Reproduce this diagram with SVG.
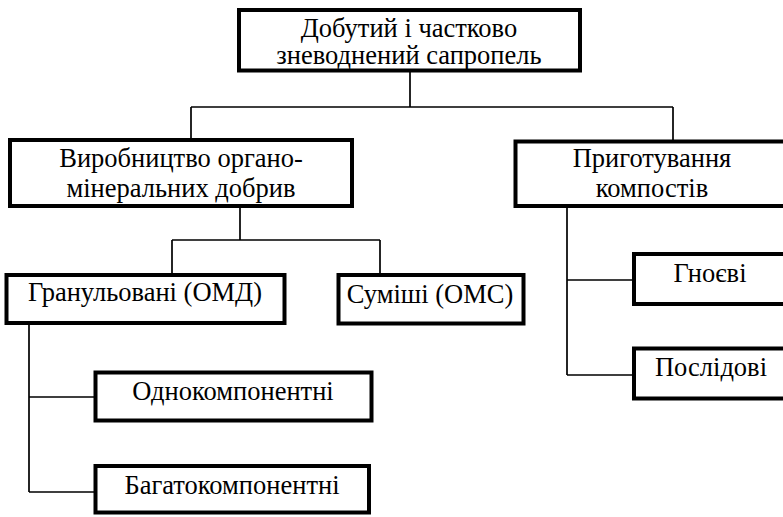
<svg xmlns="http://www.w3.org/2000/svg" width="783" height="517" viewBox="0 0 783 517">
<style>
.box{fill:#fff;stroke:#000;stroke-width:4}
.t{font-family:"Liberation Serif","Times New Roman","DejaVu Serif",serif;font-size:26.5px;fill:#000;text-anchor:middle}
.c{fill:none;stroke:#000;stroke-width:1.7}
</style>
<rect width="783" height="517" fill="#fff"/>
<g id="connectors">
<path class="c" d="M410 72V107M191 107H673M191 107V140M673 107V140"/>
<path class="c" d="M240 206V240M172 240H380M172 240V275M380 240V275"/>
<path class="c" d="M567 206V375M567 280H634M567 375H634"/>
<path class="c" d="M29 323V492M29 397H95M29 492H95"/>
</g>
<g id="n-top">
<rect class="box" x="239" y="10" width="341" height="60.5"/>
<text class="t" x="409" y="37">Добутий і частково</text>
<text class="t" x="409" y="64">зневоднений  сапропель</text>
</g>
<g id="n-vyrob">
<rect class="box" x="10" y="140" width="342" height="66"/>
<text class="t" x="181" y="167">Виробництво органо-</text>
<text class="t" x="181" y="197">мінеральних  добрив</text>
</g>
<g id="n-prygot">
<rect class="box" x="515.5" y="141.5" width="280" height="64.5"/>
<text class="t" x="652" y="167">Приготування</text>
<text class="t" x="652" y="197">компостів</text>
</g>
<g id="n-granul">
<rect class="box" x="6.5" y="275" width="278" height="48"/>
<text class="t" x="145" y="301">Гранульовані (ОМД)</text>
</g>
<g id="n-sumishi">
<rect class="box" x="338.5" y="275" width="185" height="48.5"/>
<text class="t" x="430" y="303">Суміші (ОМС)</text>
</g>
<g id="n-gnoevi">
<rect class="box" x="634" y="254" width="160" height="50"/>
<text class="t" x="710" y="282">Гноєві</text>
</g>
<g id="n-poslidovi">
<rect class="box" x="634" y="348.5" width="160" height="50"/>
<text class="t" x="711" y="376">Послідові</text>
</g>
<g id="n-odno">
<rect class="box" x="95.5" y="372.5" width="276" height="48"/>
<text class="t" x="233" y="400">Однокомпонентні</text>
</g>
<g id="n-baga">
<rect class="box" x="95.5" y="466" width="273.5" height="46.5"/>
<text class="t" x="232" y="494">Багатокомпонентні</text>
</g>
</svg>
